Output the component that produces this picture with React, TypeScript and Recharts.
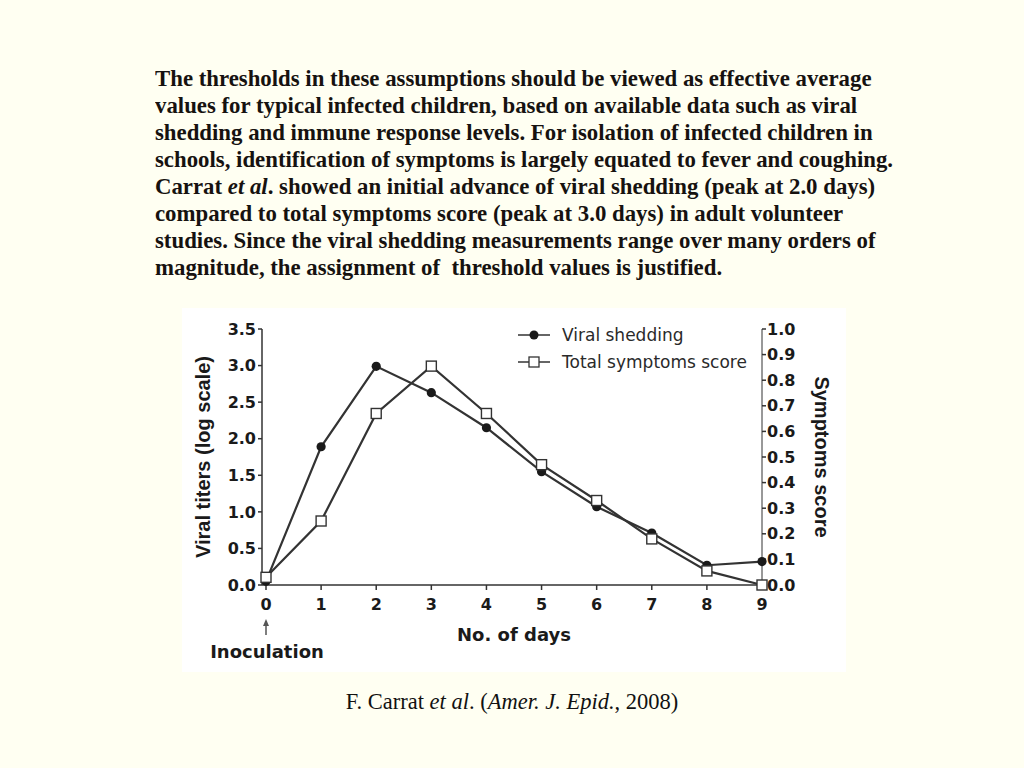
import React from 'react';
import {
  LineChart, Line, XAxis, YAxis, Legend, ReferenceDot,
} from 'recharts';

const DAYS = [0, 1, 2, 3, 4, 5, 6, 7, 8, 9];
const VIRAL_SHEDDING = [0.05, 1.89, 2.99, 2.63, 2.15, 1.55, 1.07, 0.71, 0.27, 0.32];
const SYMPTOMS_SCORE = [0.03, 0.25, 0.67, 0.855, 0.67, 0.47, 0.33, 0.18, 0.055, 0.0];
const TITER_TICKS = [0, 0.5, 1, 1.5, 2, 2.5, 3, 3.5];
const SCORE_TICKS = [0, 0.1, 0.2, 0.3, 0.4, 0.5, 0.6, 0.7, 0.8, 0.9, 1.0];

const SERIES_VIRAL = 'Viral shedding';
const SERIES_SCORE = 'Total symptoms score';

const PARAGRAPH = [
  'The thresholds in these assumptions should be viewed as effective average',
  'values for typical infected children, based on available data such as viral',
  'shedding and immune response levels. For isolation of infected children in',
  'schools, identification of symptoms is largely equated to fever and coughing.',
  '',
  'compared to total symptoms score (peak at 3.0 days) in adult volunteer',
  'studies. Since the viral shedding measurements range over many orders of',
  'magnitude, the assignment of  threshold values is justified.',
];

const data = DAYS.map((d, i) => ({
  day: d,
  viral: VIRAL_SHEDDING[i],
  score: SYMPTOMS_SCORE[i],
}));

const INK = '#333333';
const TICK_FONT = { fontFamily: '"DejaVu Sans", sans-serif', fontWeight: 700, fontSize: 16, fill: '#1a1a1a' };

const Dot = ({ cx, cy }: any) =>
  cx == null ? null : <circle cx={cx} cy={cy} r={4.6} fill="#1a1a1a" />;

const Square = ({ cx, cy }: any) =>
  cx == null ? null : (
    <rect x={cx - 5} y={cy - 5} width={10} height={10} fill="#ffffff" stroke={INK} strokeWidth={1.4} />
  );

const LegendIcon = ({ square }: { square: boolean }) => (
  <svg width={32} height={16} style={{ display: 'block' }}>
    <line x1={0} y1={8} x2={32} y2={8} stroke={INK} strokeWidth={1.5} />
    {square
      ? <rect x={11} y={3} width={10} height={10} fill="#fff" stroke={INK} strokeWidth={1.3} />
      : <circle cx={16} cy={8} r={4.5} fill="#1a1a1a" />}
  </svg>
);

const renderLegend = () => (
  <div style={{ fontFamily: '"DejaVu Sans", sans-serif', fontSize: 17, color: '#2a2a2a' }}>
    {[SERIES_VIRAL, SERIES_SCORE].map((name) => (
      <div key={name} style={{ display: 'flex', alignItems: 'center', height: 27 }}>
        <LegendIcon square={name === SERIES_SCORE} />
        <span style={{ marginLeft: 12, whiteSpace: 'nowrap' }}>{name}</span>
      </div>
    ))}
  </div>
);

const LeftLabel = ({ viewBox }: any) => {
  const x = viewBox.x + 21;
  const y = viewBox.y + viewBox.height / 2;
  return (
    <text x={x} y={y} transform={`rotate(-90 ${x} ${y})`} textAnchor="middle" dominantBaseline="central"
      style={{ fontFamily: '"Liberation Sans", Arial, sans-serif', fontWeight: 700, fontSize: 20, fill: '#1a1a1a' }}>
      Viral titers (log scale)
    </text>
  );
};

const RightLabel = ({ viewBox }: any) => {
  const x = viewBox.x + 60;
  const y = viewBox.y + viewBox.height / 2;
  return (
    <text x={x} y={y} transform={`rotate(90 ${x} ${y})`} textAnchor="middle" dominantBaseline="central"
      style={{ fontFamily: '"Liberation Sans", Arial, sans-serif', fontWeight: 700, fontSize: 20, fill: '#1a1a1a' }}>
      Symptoms score
    </text>
  );
};

const BottomLabel = ({ viewBox }: any) => (
  <text x={viewBox.x + viewBox.width / 2 + 2} y={viewBox.y + 56} textAnchor="middle"
    style={{ fontFamily: '"DejaVu Sans", sans-serif', fontWeight: 700, fontSize: 18, fill: '#1a1a1a' }}>
    No. of days
  </text>
);

const Inoculation = ({ cx, cy }: any) => (
  <g>
    <line x1={cx} y1={cy + 39} x2={cx} y2={cy + 50} stroke="#555" strokeWidth={1.5} />
    <path d={`M${cx - 3},${cy + 41} L${cx},${cy + 34} L${cx + 3},${cy + 41} Z`} fill="#555" />
    <text x={cx + 1} y={cy + 73} textAnchor="middle"
      style={{ fontFamily: '"DejaVu Sans", sans-serif', fontWeight: 700, fontSize: 18, fill: '#1a1a1a' }}>
      Inoculation
    </text>
  </g>
);

export default function App() {
  return (
    <div style={{ position: 'relative', width: 1024, height: 768, background: '#FFFFF2', overflow: 'hidden' }}>
      <style>{'body{margin:0}'}</style>
      <div style={{
        position: 'absolute', left: 155, top: 65, fontFamily: '"Liberation Serif", "Times New Roman", serif',
        fontWeight: 700, fontSize: 24, lineHeight: '27px', color: '#161210', whiteSpace: 'pre',
        transform: 'scaleX(0.95)', transformOrigin: 'left top',
      }}>
        {PARAGRAPH.map((line, i) => (
          <div key={i}>
            {i === 4
              ? <>Carrat <i>et al</i>. showed an initial advance of viral shedding (peak at 2.0 days)</>
              : line}
          </div>
        ))}
      </div>

      <div style={{ position: 'absolute', left: 182, top: 308, width: 664, height: 364, background: '#ffffff' }}>
        <LineChart width={664} height={364} data={data} margin={{ top: 21, right: 0, bottom: 0, left: 0 }}>
          <XAxis
            dataKey="day" type="number" domain={[0, 9]} ticks={DAYS} padding={{ left: 4, right: 0 }}
            height={87} tick={TICK_FONT} tickSize={5} tickMargin={9}
            axisLine={{ stroke: INK, strokeWidth: 1.5 }} tickLine={{ stroke: INK, strokeWidth: 1.5 }}
            label={BottomLabel}
          />
          <YAxis
            yAxisId="left" orientation="left" domain={[0, 3.5]} ticks={TITER_TICKS} width={80}
            tick={TICK_FONT} tickSize={4} tickMargin={2} tickFormatter={(v: number) => v.toFixed(1)}
            axisLine={{ stroke: INK, strokeWidth: 1.5 }} tickLine={{ stroke: INK, strokeWidth: 1.5 }}
            label={LeftLabel}
          />
          <YAxis
            yAxisId="right" orientation="right" domain={[0, 1]} ticks={SCORE_TICKS} width={84}
            tick={TICK_FONT} tickSize={4} tickMargin={1} tickFormatter={(v: number) => v.toFixed(1)}
            axisLine={{ stroke: INK, strokeWidth: 1 }} tickLine={{ stroke: INK, strokeWidth: 1.5 }}
            label={RightLabel}
          />
          <Legend
            layout="vertical" align="center" verticalAlign="middle" content={renderLegend}
            wrapperStyle={{ left: 336, top: 13, width: 'auto' }}
          />
          <ReferenceDot yAxisId="left" x={0} y={0} shape={Inoculation} />
          <Line
            yAxisId="left" dataKey="viral" name={SERIES_VIRAL} stroke={INK} strokeWidth={2.2}
            dot={<Dot />} activeDot={false} isAnimationActive={false}
          />
          <Line
            yAxisId="right" dataKey="score" name={SERIES_SCORE} stroke={INK} strokeWidth={2.2}
            dot={<Square />} activeDot={false} isAnimationActive={false}
          />
        </LineChart>
      </div>

      <div style={{
        position: 'absolute', left: 0, top: 689, width: 1024, textAlign: 'center',
        fontFamily: '"Liberation Serif", "Times New Roman", serif', fontSize: 22.5, color: '#111',
      }}>
        F. Carrat <i>et al</i>. (<i>Amer. J. Epid.</i>, 2008)
      </div>
    </div>
  );
}
